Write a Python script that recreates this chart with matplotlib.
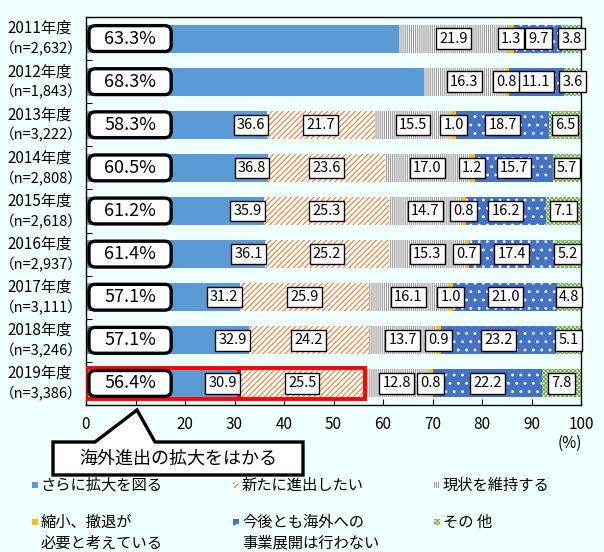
import matplotlib
matplotlib.use("Agg")
import matplotlib.pyplot as plt
import numpy as np
from matplotlib.patches import Rectangle, FancyBboxPatch, Polygon
import matplotlib.transforms as mtransforms

plt.rcParams['font.family'] = ['Noto Sans CJK JP', 'DejaVu Sans']
plt.rcParams['hatch.linewidth'] = 0.8

# ---- data ----
years = ['2011年度', '2012年度', '2013年度', '2014年度', '2015年度',
         '2016年度', '2017年度', '2018年度', '2019年度']
samples = ['2,632', '1,843', '3,222', '2,808', '2,618', '2,937', '3,111', '3,246', '3,386']
expand_total = [63.3, 68.3, 58.3, 60.5, 61.2, 61.4, 57.1, 57.1, 56.4]
further = [63.3, 68.3, 36.6, 36.8, 35.9, 36.1, 31.2, 32.9, 30.9]
new_entry = [0, 0, 21.7, 23.6, 25.3, 25.2, 25.9, 24.2, 25.5]
status_quo = [21.9, 16.3, 15.5, 17.0, 14.7, 15.3, 16.1, 13.7, 12.8]
shrink = [1.3, 0.8, 1.0, 1.2, 0.8, 0.7, 1.0, 0.9, 0.8]
no_overseas = [9.7, 11.1, 18.7, 15.7, 16.2, 17.4, 21.0, 23.2, 22.2]
other = [3.8, 3.6, 6.5, 5.7, 7.1, 5.2, 4.8, 5.1, 7.8]
xticks = [0, 10, 20, 30, 40, 50, 60, 70, 80, 90, 100]

legend_labels = ['さらに拡大を図る', '新たに進出したい', '現状を維持する',
                 '縮小、撤退が\n必要と考えている', '今後とも海外への\n事業展開は行わない', 'その 他']
callout_text = '海外進出の拡大をはかる'

BG = '#F0FFFF'
W, H = 604, 552
fig = plt.figure(figsize=(W / 100, H / 100), dpi=100, facecolor=BG)
ax = fig.add_axes([86 / W, 1 - 405 / H, 495 / W, 388 / H], facecolor=BG)

styles = [
    dict(color='#5B9BD5'),
    dict(facecolor='white', edgecolor='#ED7D31', hatch='//////'),
    dict(facecolor='white', edgecolor='#9A9A9A', hatch='||||||||'),
    dict(color='#FFC000'),
    dict(facecolor='#4472C4', edgecolor='white', hatch='..'),
    dict(facecolor='#F2F9EC', edgecolor='#70AD47', hatch='xxxxxxxx'),
]
series = [further, new_entry, status_quo, shrink, no_overseas, other]

y = np.arange(len(years))
bh = 0.65
left = np.zeros(len(years))
for s, st in zip(series, styles):
    vals = np.array(s, dtype=float)
    ax.barh(y, vals, left=left, height=bh, linewidth=0, zorder=2, **st)
    left += vals

lab_kw = dict(fontsize=10.5, va='center', zorder=6,
              bbox=dict(boxstyle='square,pad=0.22', fc='white', ec='black', lw=1.0))

for i in range(len(years)):
    start = 0.0
    for k, s in enumerate(series):
        v = s[i]
        if k == 0:
            if new_entry[i] > 0:
                ax.text(v - 0.4, i, f'{v:.1f}', ha='right', **lab_kw)
        elif v > 0:
            ax.text(start + v / 2, i, f'{v:.1f}', ha='center', **lab_kw)
        start += v

# percentage boxes
ratio = (9 / 388) / (100 / 495)
for i, t in enumerate(expand_total):
    p = FancyBboxPatch((0.6, i - 0.3), 16.6, 0.6,
                       boxstyle='round,pad=0,rounding_size=1.3',
                       mutation_aspect=ratio, fc='white', ec='black', lw=2.4, zorder=5)
    ax.add_patch(p)
    ax.text(8.9, i, f'{t:.1f}%', ha='center', va='center', fontsize=13, zorder=6)

# red highlight for 2019
i19 = len(years) - 1
ax.add_patch(Rectangle((0, i19 - 0.36), further[i19], 0.72, fill=False, ec='red', lw=2.8, zorder=4))
ax.add_patch(Rectangle((further[i19], i19 - 0.36), new_entry[i19], 0.72, fill=False, ec='red', lw=2.8, zorder=4))

ax.set_xlim(0, 100)
ax.set_ylim(len(years) - 0.5, -0.5)
ax.set_xticks(xticks)
ax.set_xticklabels([str(v) for v in xticks], fontsize=11)
ax.set_yticks(np.arange(-0.5, len(years)))
ax.set_yticklabels([])
ax.tick_params(axis='both', direction='in', length=4, width=0.8)
ax.tick_params(axis='x', pad=8)
for sp in ax.spines.values():
    sp.set_linewidth(1.0)
    sp.set_color('black')

trans = mtransforms.blended_transform_factory(ax.transAxes, ax.transData)
for i, (yr, n) in enumerate(zip(years, samples)):
    ax.text(-0.093, i - 0.23, yr, transform=trans, ha='center', va='center', fontsize=11)
    ax.text(-0.091, i + 0.24, f'（n={n}）', transform=trans, ha='center', va='center',
            fontsize=10.5)

fig.text(570 / W, 1 - 443 / H, '(%)', ha='center', va='center', fontsize=11)

# callout
def fx(px):
    return px / W

def fy(py):
    return 1 - py / H

pts = [(53, 442), (95, 442), (137, 410), (155, 442), (303, 442), (303, 475), (53, 475)]
poly = Polygon([(fx(a), fy(b)) for a, b in pts], closed=True, fc='white', ec='black',
               lw=2.4, transform=fig.transFigure, zorder=10, joinstyle='miter')
fig.patches.append(poly)
fig.text(fx(178), fy(459), callout_text, ha='center', va='center', fontsize=13, zorder=11)

# legend
cols = [35, 236, 437]
rows = [485, 522]
for j, (lab, st) in enumerate(zip(legend_labels, styles)):
    cx = cols[j % 3]
    cy = rows[j // 3]
    r = Rectangle((fx(cx - 3), fy(cy + 3)), 6 / W, 6 / H, transform=fig.transFigure,
                  linewidth=0, zorder=10, **st)
    fig.patches.append(r)
    lines = lab.split('\n')
    for li, line in enumerate(lines):
        fig.text(fx(cx + 6), fy(cy + li * 21), line, ha='left', va='center', fontsize=11)

fig.savefig('out.png', dpi=100, facecolor=BG)
